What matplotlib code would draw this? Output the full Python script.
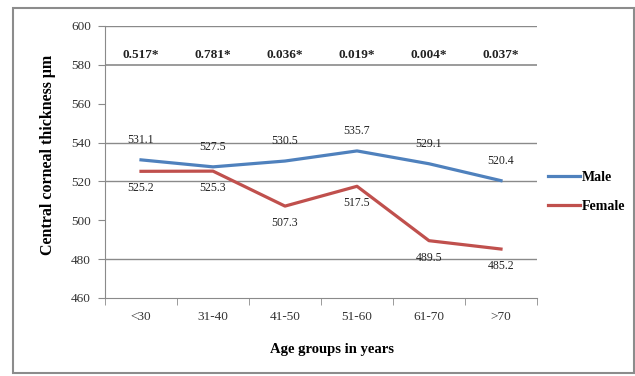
import matplotlib
matplotlib.use("Agg")
import matplotlib.pyplot as plt
from matplotlib.patches import Rectangle

# Data
age_groups = ["<30", "31-40", "41-50", "51-60", "61-70", ">70"]
male_cct = [531.1, 527.5, 530.5, 535.7, 529.1, 520.4]
female_cct = [525.2, 525.3, 507.3, 517.5, 489.5, 485.2]
p_values = ["0.517*", "0.781*", "0.036*", "0.019*", "0.004*", "0.037*"]
y_ticks = [460, 480, 500, 520, 540, 560, 580, 600]
grid_levels = [480, 520, 540, 580, 600]

plt.rcParams["font.family"] = ["Liberation Serif", "DejaVu Serif"]

W, H = 635, 376
fig = plt.figure(figsize=(W / 100, H / 100), dpi=100)
fig.patch.set_facecolor("white")

# outer chart frame
fig.add_artist(Rectangle((13 / W, 1 - 373 / H), (634 - 13) / W, (373 - 8) / H,
                         transform=fig.transFigure, fill=False,
                         edgecolor="#8c8c8c", linewidth=1.5))

ax = fig.add_axes([105 / W, 1 - 298 / H, (537 - 105) / W, (298 - 26) / H])
x = list(range(len(age_groups)))
ax.set_xlim(-0.5, len(age_groups) - 0.5)
ax.set_ylim(460, 600)

for g in grid_levels:
    ax.axhline(g, color="#8a8a8a", linewidth=1.2 if g == 580 else 1.0, zorder=1)

male_color = "#4F81BD"
female_color = "#C0504D"
ax.plot(x, male_cct, color=male_color, linewidth=2.3, zorder=3, label="Male")
ax.plot(x, female_cct, color=female_color, linewidth=2.3, zorder=3, label="Female")

for xi, v in zip(x, male_cct):
    ax.annotate(f"{v:.1f}", (xi, v), xytext=(0, 10), textcoords="offset points",
                ha="center", va="bottom", fontsize=8.5, color="#222222")
for xi, v in zip(x, female_cct):
    ax.annotate(f"{v:.1f}", (xi, v), xytext=(0, -8), textcoords="offset points",
                ha="center", va="top", fontsize=8.5, color="#222222")
for xi, p in zip(x, p_values):
    ax.text(xi, 582, p, ha="center", va="bottom", fontsize=9.5, fontweight="bold",
            color="#222222")

ax.set_yticks(y_ticks)
ax.set_yticklabels([str(t) for t in y_ticks], fontsize=9.5, color="#333333")
ax.set_xticks(x)
ax.set_xticklabels(age_groups, fontsize=9.5, color="#333333")
ax.set_xticks([i + 0.5 for i in range(-1, len(age_groups))], minor=True)
ax.tick_params(axis="x", which="major", length=0, pad=9)
ax.tick_params(axis="x", which="minor", length=5, color="#8a8a8a", direction="out")
ax.tick_params(axis="y", length=5, color="#8a8a8a", direction="out", pad=5)

for side in ["top", "right"]:
    ax.spines[side].set_visible(False)
ax.spines["left"].set_color("#8a8a8a")
ax.spines["bottom"].set_color("#8a8a8a")

ax.set_xlabel("Age groups in years", fontsize=10.5, fontweight="bold")
ax.xaxis.set_label_coords(0.525, -0.165)
ax.set_ylabel("Central corneal thickness μm", fontsize=11.5, fontweight="bold",
              va="center")
ax.yaxis.set_label_coords(-0.132, 0.526)

ax.legend(loc="center left", bbox_to_anchor=(1.0, 0.39), frameon=False,
          handlelength=2.3, handletextpad=0.15, labelspacing=1.15,
          borderaxespad=0.4, prop={"weight": "bold", "size": 10})

fig.savefig("out.png", dpi=100, facecolor="white")
